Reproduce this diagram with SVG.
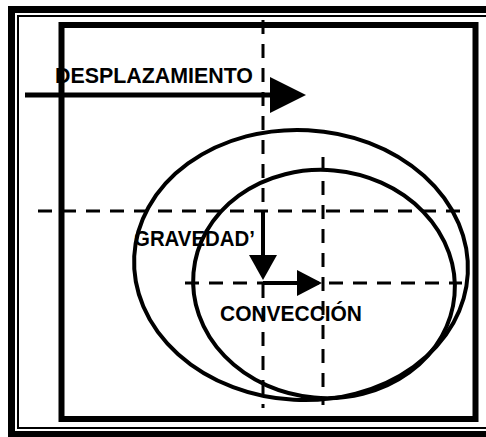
<svg xmlns="http://www.w3.org/2000/svg" width="486" height="437" viewBox="0 0 486 437">
  <style>
    .lbl { font-family: "Liberation Sans", Arial, sans-serif; font-weight: bold; fill: #000; }
    .dash { stroke: #000; stroke-width: 3; fill: none; stroke-dasharray: 14 10; }
    .curve { stroke: #000; stroke-width: 4; fill: none; }
    .shaft { stroke: #000; fill: none; }
    .head { fill: #000; }
  </style>
  <rect x="0" y="0" width="486" height="437" fill="#fff"/>
  <g id="frame">
    <rect x="8" y="6" width="490" height="440" fill="#000"/>
    <rect x="15" y="13" width="480" height="418" fill="#fff"/>
    <rect x="18" y="16" width="500" height="412" fill="none" stroke="#000" stroke-width="2"/>
  </g>
  <g id="box">
    <rect x="61.5" y="25" width="414" height="394" fill="none" stroke="#000" stroke-width="6"/>
  </g>
  <g id="guides">
    <line class="dash" x1="263" y1="20" x2="263" y2="408"/>
    <line class="dash" x1="323" y1="157" x2="323" y2="405"/>
    <line class="dash" x1="38" y1="211" x2="465" y2="211"/>
    <line class="dash" x1="185" y1="283" x2="462" y2="283"/>
  </g>
  <g id="orbit-outer">
    <ellipse class="curve" cx="301" cy="265" rx="167" ry="135" transform="rotate(3 301 265)"/>
  </g>
  <g id="orbit-inner">
    <ellipse class="curve" cx="324" cy="284" rx="131" ry="114" transform="rotate(5 324 284)"/>
  </g>
  <g id="connectors">
    <line class="shaft" x1="25" y1="95" x2="272" y2="95" stroke-width="5"/>
    <polygon class="head" points="270,77 306,95 270,113"/>
    <line class="shaft" x1="263" y1="211" x2="263" y2="257" stroke-width="4"/>
    <polygon class="head" points="249,255 277,255 263,280"/>
    <line class="shaft" x1="263" y1="283" x2="299" y2="283" stroke-width="4"/>
    <polygon class="head" points="297,270 322,283 297,296"/>
  </g>
  <g id="desplazamiento">
    <text class="lbl" x="55" y="83" font-size="22" textLength="198" lengthAdjust="spacingAndGlyphs">DESPLAZAMIENTO</text>
  </g>
  <g id="gravedad">
    <text class="lbl" x="134" y="246" font-size="22" textLength="121" lengthAdjust="spacingAndGlyphs">GRAVEDAD’</text>
  </g>
  <g id="conveccion">
    <text class="lbl" x="220" y="321" font-size="21.5" textLength="142" lengthAdjust="spacingAndGlyphs">CONVECCIÓN</text>
  </g>
</svg>
